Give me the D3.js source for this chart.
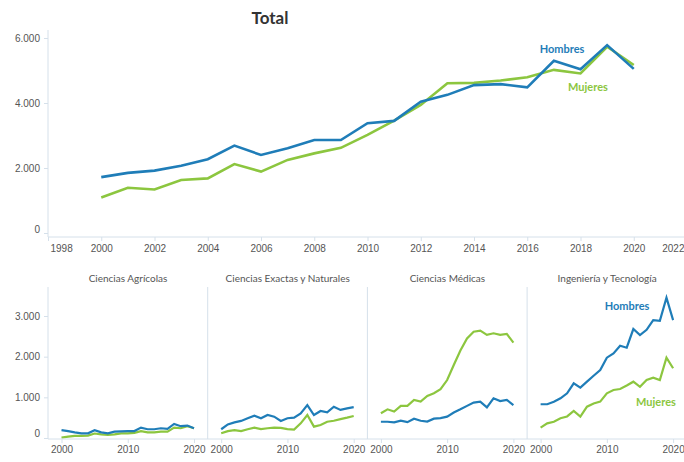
<!DOCTYPE html>
<html>
<head>
<meta charset="utf-8">
<script src="https://cdn.jsdelivr.net/npm/d3@7"></script>
<style>
  body { margin: 0; background: #fff; }
  svg { font-family: Lato, "Open Sans", sans-serif; }
  .tick text { fill: #555; font-size: 10px; }
  .tick line { stroke: #d5e0ea; }
  .panel-title { fill: #555; font-size: 10px; }
</style>
</head>
<body>
<div id="chartContainer"></div>
<script>
// años de la serie
var years = [2000, 2001, 2002, 2003, 2004, 2005, 2006, 2007, 2008, 2009, 2010,
             2011, 2012, 2013, 2014, 2015, 2016, 2017, 2018, 2019, 2020];

// total
var totalHombres = [1720, 1850, 1920, 2070, 2270, 2690, 2400, 2610, 2860, 2860, 3380,
                    3450, 4040, 4250, 4550, 4580, 4480, 5300, 5040, 5780, 5050];
var totalMujeres = [1090, 1390, 1340, 1630, 1680, 2120, 1890, 2250, 2450, 2620, 3020,
                    3460, 3940, 4610, 4620, 4690, 4790, 5020, 4910, 5730, 5170];

// áreas
var areas = ["Ciencias Agrícolas", "Ciencias Exactas y Naturales", "Ciencias Médicas", "Ingeniería y Tecnología"];
var agricolasHombres = [195, 170, 140, 115, 115, 190, 140, 115, 155, 165, 170,
                        170, 255, 215, 215, 240, 225, 345, 290, 305, 240];
var agricolasMujeres = [10, 35, 50, 50, 60, 110, 90, 75, 90, 115, 115,
                        125, 170, 140, 140, 155, 155, 255, 240, 290, 240];
var exactasHombres = [215, 335, 385, 420, 485, 550, 485, 565, 525, 420, 485,
                      500, 605, 810, 565, 665, 630, 770, 690, 730, 760];
var exactasMujeres = [115, 170, 195, 170, 215, 255, 220, 240, 255, 250, 220,
                      205, 360, 565, 280, 320, 400, 425, 465, 500, 540];
var medicasHombres = [400, 400, 385, 425, 390, 475, 425, 405, 475, 490, 525,
                      625, 705, 790, 870, 895, 755, 975, 910, 935, 810];
var medicasMujeres = [610, 705, 650, 790, 790, 935, 895, 1035, 1100, 1200, 1425,
                      1795, 2150, 2450, 2615, 2640, 2535, 2575, 2535, 2560, 2345];
var ingenieriaHombres = [830, 830, 890, 975, 1100, 1345, 1240, 1385, 1530, 1670, 1975,
                         2080, 2270, 2220, 2680, 2530, 2660, 2900, 2880, 3450, 2900];
var ingenieriaMujeres = [255, 360, 400, 485, 530, 665, 525, 770, 850, 895, 1100,
                         1180, 1205, 1290, 1385, 1260, 1425, 1485, 1425, 1975, 1715];

var topXTicks = [1998, 2000, 2002, 2004, 2006, 2008, 2010, 2012, 2014, 2016, 2018, 2020, 2022];
var topYTicks = [0, 2000, 4000, 6000];
var panelXTicks = [2000, 2010, 2020];
var panelYTicks = [0, 1000, 2000, 3000];

Chart = {
    width : 684,
    height : 462,
    axisX : 48, // eje vertical izquierdo
    blue : "#1f7db8",
    green : "#8cc63f",
    axisColor : "#d5e0ea",
    panelWidth : 159.7,

    fmt : d3.formatLocale({decimal: ",", thousands: ".", grouping: [3], currency: ["", ""]}).format(",d"),

    drawChart : function(){
        var svg = d3.select("#chartContainer").append("svg")
            .attr("width", Chart.width)
            .attr("height", Chart.height);

        this.drawTotal(svg);
        var panels = [
            [agricolasHombres, agricolasMujeres],
            [exactasHombres, exactasMujeres],
            [medicasHombres, medicasMujeres],
            [ingenieriaHombres, ingenieriaMujeres]
        ];
        for (var i = 0; i < panels.length; i++) {
            this.drawPanel(svg, i, panels[i][0], panels[i][1]);
        }
        this.drawPanelAxis(svg);
    },

    drawTotal : function(svg){
        var x = d3.scaleLinear().domain([1998, 2022]).range([Chart.axisX, 687]);
        var y = d3.scaleLinear().domain([0, 6000]).range([233, 38]);

        svg.append("text")
            .attr("x", 270).attr("y", 24)
            .attr("text-anchor", "middle")
            .style("font-size", "17px").style("font-weight", "bold").style("fill", "#333")
            .text("Total");

        var gx = svg.append("g").attr("transform", "translate(0,237)")
            .call(d3.axisBottom(x).tickValues(topXTicks).tickSize(4).tickPadding(4).tickFormat(d3.format("d")));
        gx.select(".domain").remove();
        gx.selectAll(".tick text")
            .attr("text-anchor", function(d){ return d == 1998 ? "start" : (d == 2022 ? "end" : "middle"); })
            .attr("x", function(d){ return d == 1998 ? 2 : (d == 2022 ? 684 - x(2022) : 0); });

        var gy = svg.append("g").attr("transform", "translate(" + Chart.axisX + ",0)")
            .call(d3.axisLeft(y).tickValues(topYTicks).tickSize(4).tickPadding(4).tickFormat(Chart.fmt));
        gy.select(".domain").remove();
        gy.selectAll(".tick text").attr("dy", function(d){ return d == 0 ? "-0.1em" : "0.32em"; });

        svg.append("line")
            .attr("x1", Chart.axisX).attr("y1", 30).attr("x2", Chart.axisX).attr("y2", 237)
            .style("stroke", Chart.axisColor);
        svg.append("line")
            .attr("x1", Chart.axisX).attr("y1", 237).attr("x2", Chart.width).attr("y2", 237)
            .style("stroke", Chart.axisColor);

        var line = d3.line().x(function(d, i){ return x(years[i]); }).y(function(d){ return y(d); });
        svg.append("path").datum(totalMujeres).attr("d", line)
            .style("fill", "none").style("stroke", Chart.green).style("stroke-width", 2.6);
        svg.append("path").datum(totalHombres).attr("d", line)
            .style("fill", "none").style("stroke", Chart.blue).style("stroke-width", 2.6);

        svg.append("text").attr("x", 562).attr("y", 53).attr("text-anchor", "middle")
            .style("font-size", "11px").style("font-weight", "bold").style("fill", Chart.blue)
            .text("Hombres");
        svg.append("text").attr("x", 588).attr("y", 91).attr("text-anchor", "middle")
            .style("font-size", "11px").style("font-weight", "bold").style("fill", Chart.green)
            .text("Mujeres");
    },

    panelY : d3.scaleLinear().domain([0, 3000]).range([438, 316]),

    drawPanel : function(svg, i, hombres, mujeres){
        var left = Chart.axisX + Chart.panelWidth * i;
        var x = d3.scaleLinear().domain([2000, 2020]).range([left + 13.5, left + 146]);
        var y = Chart.panelY;

        svg.append("text").attr("class", "panel-title")
            .attr("x", left + 80).attr("y", 282).attr("text-anchor", "middle")
            .text(areas[i]);

        // separador
        svg.append("line")
            .attr("x1", left).attr("y1", 287).attr("x2", left).attr("y2", 439)
            .style("stroke", Chart.axisColor);

        var gx = svg.append("g").attr("transform", "translate(0,439)")
            .call(d3.axisBottom(x).tickValues(panelXTicks).tickSize(4).tickPadding(3).tickFormat(d3.format("d")));
        gx.select(".domain").remove();

        var line = d3.line().x(function(d, j){ return x(years[j]); }).y(function(d){ return y(d); });
        svg.append("path").datum(mujeres).attr("d", line)
            .style("fill", "none").style("stroke", Chart.green).style("stroke-width", 2.2);
        svg.append("path").datum(hombres).attr("d", line)
            .style("fill", "none").style("stroke", Chart.blue).style("stroke-width", 2.2);

        if (i == 3) {
            svg.append("text").attr("x", 627).attr("y", 310).attr("text-anchor", "middle")
                .style("font-size", "11px").style("font-weight", "bold").style("fill", Chart.blue)
                .text("Hombres");
            svg.append("text").attr("x", 656).attr("y", 406).attr("text-anchor", "middle")
                .style("font-size", "11px").style("font-weight", "bold").style("fill", Chart.green)
                .text("Mujeres");
        }
    },

    drawPanelAxis : function(svg){
        var gy = svg.append("g").attr("transform", "translate(" + Chart.axisX + ",0)")
            .call(d3.axisLeft(Chart.panelY).tickValues(panelYTicks).tickSize(4).tickPadding(4).tickFormat(Chart.fmt));
        gy.select(".domain").remove();
        gy.selectAll(".tick text").attr("dy", function(d){ return d == 0 ? "-0.2em" : "0.32em"; });

        svg.append("line")
            .attr("x1", Chart.axisX).attr("y1", 439).attr("x2", Chart.width).attr("y2", 439)
            .style("stroke", Chart.axisColor);
    }
};

Chart.drawChart();
</script>
</body>
</html>
